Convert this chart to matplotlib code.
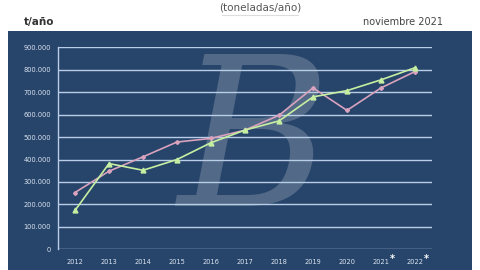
import numpy as np
import matplotlib.pyplot as plt
from matplotlib.patches import Rectangle
from matplotlib.lines import Line2D

# data
years = ['2012', '2013', '2014', '2015', '2016', '2017', '2018', '2019', '2020', '2021', '2022']
pink_vals = [253000, 348000, 412000, 478000, 494000, 531000, 597000, 719000, 619000, 719000, 792000]
green_vals = [173000, 382000, 352000, 400000, 475000, 531000, 572000, 679000, 707000, 755000, 809000]
yticks = [0, 100000, 200000, 300000, 400000, 500000, 600000, 700000, 800000, 900000]
ytick_labels = ['0', '100.000', '200.000', '300.000', '400.000', '500.000',
                '600.000', '700.000', '800.000', '900.000']

navy = '#27456b'
grid_col = '#b9cde6'
pink = '#d9a2bd'
green = '#c6efa2'

fig = plt.figure(figsize=(4.8, 2.7), dpi=100)
fig.patch.set_facecolor('white')

# navy panel behind the plot
fig.patches.append(Rectangle((8/480, 0), 464/480, 1 - 31/270, transform=fig.transFigure,
                             facecolor=navy, edgecolor='none', zorder=-5))

ax = fig.add_axes([58/480, 1 - 249.3/270, 374/480, 202/270])
ax.set_facecolor('none')

# watermark
ax.text(5.25, 450000, 'B', fontsize=150, fontstyle='italic', family='DejaVu Serif',
        color='white', alpha=0.2, ha='center', va='center', zorder=1)

x = np.arange(len(years))
ax.plot(x, pink_vals, color=pink, lw=1.2, marker='D', ms=2, zorder=4)
ax.plot(x, green_vals, color=green, lw=1.2, marker='^', ms=3.5, zorder=5)

ax.set_xlim(-0.5, len(years) - 0.5)
ax.set_ylim(0, 900000)
ax.set_yticks(yticks)
ax.set_yticklabels(ytick_labels)
for y in yticks:
    ax.axhline(y, color=grid_col, lw=1, zorder=2)

ax.set_xticks(x)
ax.set_xticklabels(years)
ax.tick_params(axis='both', length=0, colors='#dbe4f0', labelsize=4.8)
ax.tick_params(axis='x', pad=7)
ax.tick_params(axis='y', pad=5)
for s in ['top', 'right', 'bottom']:
    ax.spines[s].set_visible(False)
ax.spines['left'].set_color(grid_col)
ax.spines['left'].set_linewidth(1)

# asterisks for estimated years
for i in [9, 10]:
    ax.annotate('*', xy=(i, 0), xytext=(8, -7), textcoords='offset points',
                color='white', fontsize=7, fontweight='bold', ha='center', va='center',
                annotation_clip=False)

fig.text(0.542, 0.972, '(toneladas/año)', ha='center', va='center', fontsize=7.5, color='#555555')
fig.add_artist(Line2D([222/480, 298/480], [1 - 15/270, 1 - 15/270], color='#dddddd', lw=0.8))
fig.text(24/480, 1 - 22/270, 't/año', ha='left', va='center', fontsize=7.5,
         fontweight='bold', color='#333333')
fig.text(443/480, 1 - 22/270, 'noviembre 2021', ha='right', va='center', fontsize=7,
         color='#444444')

fig.savefig('out.png', dpi=100)
